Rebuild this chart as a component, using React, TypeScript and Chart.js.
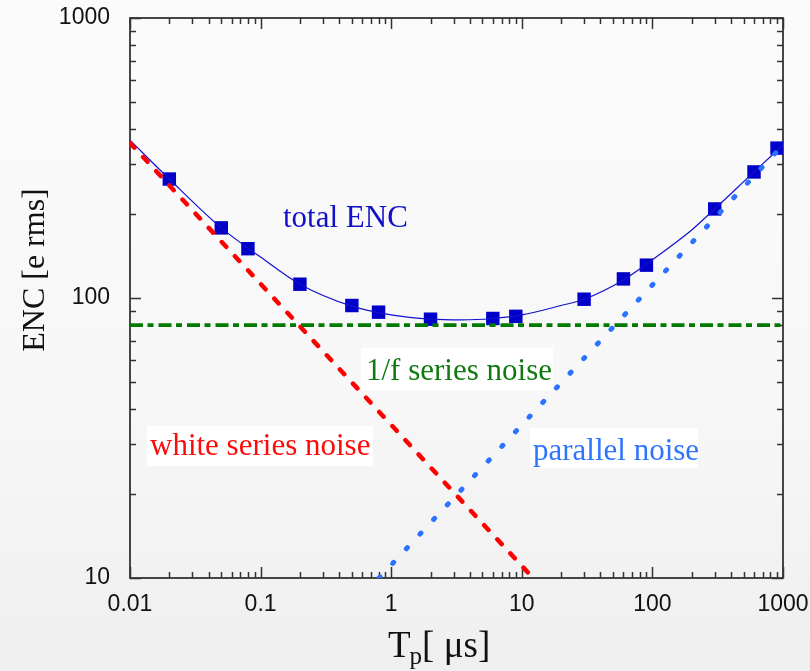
import React, { useEffect, useRef } from 'react';
import { Chart, registerables } from 'chart.js';
Chart.register(...registerables);

// ---- data ----
const X_MAJOR = [0.01, 0.1, 1, 10, 100, 1000];
const Y_MAJOR = [10, 100, 1000];
const X_TICK_LABELS = ['0.01', '0.1', '1', '10', '100', '1000'];
const Y_TICK_LABELS = ['10', '100', '1000'];
const MINOR_STEPS = [2, 3, 4, 5, 6, 7, 8, 9];

const MEAS_TP = [0.02, 0.05, 0.08, 0.2, 0.5, 0.8, 2, 6, 9, 30, 60, 90, 300, 600, 900];
const MEAS_ENC = [266, 178, 150, 112, 94, 89, 84, 84.5, 86, 99, 117, 131, 208, 282, 343];

const TOTAL_TP = [0.01, 0.02, 0.05, 0.1, 0.2, 0.5, 1, 2, 3.5, 6, 10, 20, 30, 60, 100, 200, 300, 600, 1000];
const TOTAL_ENC = [366, 266, 178, 140, 112, 93.5, 87, 84, 83.5, 84.5, 87, 94, 99, 116, 137, 175, 208, 282, 352];

const WHITE_TP = [0.01, 12.2];
const WHITE_ENC = [358, 10];

const ONEF_TP = [0.01, 1000];
const ONEF_ENC = [80, 80];

const PAR_TP = [0.807, 1000];
const PAR_ENC = [10, 352];

const LABELS = ['total ENC', '1/f series noise', 'white series noise', 'parallel noise'];
const X_TITLE = ['T', 'p', '[ μs]'];
const Y_TITLE = 'ENC [e rms]';

const pts = (xs: number[], ys: number[]) => xs.map((x, i) => ({ x, y: ys[i] }));

const buildTicks = (majors: number[]) => {
  const out: { value: number }[] = [];
  majors.forEach((m, i) => {
    out.push({ value: m });
    if (i < majors.length - 1) MINOR_STEPS.forEach((s) => out.push({ value: Number((m * s).toPrecision(6)) }));
  });
  return out;
};
const isMajor = (v: number) => Math.abs(Math.log10(v) - Math.round(Math.log10(v))) < 1e-9;

const SERIF = '"Liberation Serif", "Times New Roman", serif';
const SANS = '"Liberation Sans", Arial, sans-serif';

const framePlugin = {
  id: 'frame',
  beforeDatasetsDraw(chart: any) {
    const { ctx, chartArea: a, scales } = chart;
    ctx.save();
    ctx.strokeStyle = '#333';
    ctx.lineWidth = 1.5;
    const xs = scales.x, ys = scales.y;
    xs.ticks.forEach((t: any) => {
      const px = Math.round(xs.getPixelForValue(t.value)) + 0.5;
      const len = isMajor(t.value) ? 11 : 6;
      ctx.beginPath();
      ctx.moveTo(px, a.bottom); ctx.lineTo(px, a.bottom - len);
      ctx.moveTo(px, a.top); ctx.lineTo(px, a.top + len);
      ctx.stroke();
    });
    ys.ticks.forEach((t: any) => {
      const py = Math.round(ys.getPixelForValue(t.value)) + 0.5;
      const len = isMajor(t.value) ? 11 : 6;
      ctx.beginPath();
      ctx.moveTo(a.left, py); ctx.lineTo(a.left + len, py);
      ctx.moveTo(a.right, py); ctx.lineTo(a.right - len, py);
      ctx.stroke();
    });
    ctx.lineWidth = 1.8;
    ctx.strokeRect(a.left, a.top, a.right - a.left, a.bottom - a.top);

    // tick labels
    ctx.fillStyle = '#111';
    ctx.font = `23px ${SANS}`;
    ctx.textAlign = 'center';
    ctx.textBaseline = 'top';
    X_MAJOR.forEach((v, i) => ctx.fillText(X_TICK_LABELS[i], xs.getPixelForValue(v), a.bottom + 15));
    ctx.textAlign = 'right';
    ctx.textBaseline = 'middle';
    Y_MAJOR.forEach((v, i) => ctx.fillText(Y_TICK_LABELS[i], a.left - 20, ys.getPixelForValue(v)));
    ctx.restore();
  },
  afterDraw(chart: any) {
    const { ctx } = chart;
    ctx.save();
    ctx.textBaseline = 'alphabetic';
    const boxes = [
      { t: LABELS[0], x: 283, y: 227, c: '#1010c8', bg: null, box: null },
      { t: LABELS[1], x: 366, y: 380, c: '#107a10', bg: '#ffffff', box: [361, 348, 192, 42] },
      { t: LABELS[2], x: 150, y: 455, c: '#ff0a0a', bg: '#ffffff', box: [147, 426, 226, 40] },
      { t: LABELS[3], x: 533, y: 460, c: '#2f74ff', bg: '#ffffff', box: [530, 428, 168, 40] },
    ];
    ctx.font = `31px ${SERIF}`;
    boxes.forEach((b) => {
      if (b.bg && b.box) {
        ctx.fillStyle = b.bg;
        ctx.fillRect(b.box[0], b.box[1], b.box[2], b.box[3]);
      }
      ctx.fillStyle = b.c;
      ctx.fillText(b.t, b.x, b.y);
    });
    ctx.fillStyle = '#111';
    let x = 388;
    ctx.font = `37px ${SERIF}`;
    ctx.fillText(X_TITLE[0], x, 657);
    x += ctx.measureText(X_TITLE[0]).width;
    ctx.font = `25px ${SERIF}`;
    ctx.fillText(X_TITLE[1], x - 1, 664);
    x += ctx.measureText(X_TITLE[1]).width;
    ctx.font = `37px ${SERIF}`;
    ctx.fillText(X_TITLE[2], x - 1, 657);
    ctx.save();
    ctx.translate(44, 270);
    ctx.rotate(-Math.PI / 2);
    ctx.font = `32px ${SERIF}`;
    ctx.textAlign = 'center';
    ctx.fillText(Y_TITLE, 0, 0);
    ctx.restore();
    ctx.restore();
  },
};

export default function App() {
  const ref = useRef<HTMLCanvasElement | null>(null);
  useEffect(() => {
    document.body.style.margin = '0';
    const canvas = ref.current!;
    const chart = new Chart(canvas, {
      type: 'scatter',
      data: {
        datasets: [
          {
            data: pts(PAR_TP, PAR_ENC),
            showLine: true,
            borderColor: '#2a72ff',
            borderWidth: 5,
            borderDash: [1.5, 18.5],
            borderCapStyle: 'round',
            pointRadius: 0,
          },
          {
            data: pts(ONEF_TP, ONEF_ENC),
            showLine: true,
            borderColor: '#007a00',
            borderWidth: 3.6,
            borderDash: [13, 4.5, 6, 5],
            pointRadius: 0,
          },
          {
            data: pts(WHITE_TP, WHITE_ENC),
            showLine: true,
            borderColor: '#ff0000',
            borderWidth: 4.5,
            borderDash: [6.5, 12.8],
            borderCapStyle: 'round',
            pointRadius: 0,
          },
          {
            data: pts(TOTAL_TP, TOTAL_ENC),
            showLine: true,
            borderColor: '#1212d0',
            borderWidth: 1.2,
            cubicInterpolationMode: 'monotone',
            pointRadius: 0,
          },
          {
            data: pts(MEAS_TP, MEAS_ENC),
            showLine: false,
            pointStyle: 'rect',
            pointRadius: 9.5,
            backgroundColor: '#0000c8',
            borderColor: '#0000c8',
            borderWidth: 0,
          },
        ],
      } as any,
      options: {
        responsive: false,
        animation: false,
        events: [],
        layout: { padding: { left: 0, top: 18, right: 27, bottom: 0 } },
        plugins: { legend: { display: false }, tooltip: { enabled: false } },
        scales: {
          x: {
            type: 'logarithmic',
            min: 0.01,
            max: 1000,
            grid: { display: false, drawTicks: false },
            border: { display: false },
            afterBuildTicks: (s: any) => { s.ticks = buildTicks(X_MAJOR); },
            afterFit: (s: any) => { s.height = 93; },
            ticks: { display: false, autoSkip: false },
          },
          y: {
            type: 'logarithmic',
            min: 10,
            max: 1000,
            grid: { display: false, drawTicks: false },
            border: { display: false },
            afterBuildTicks: (s: any) => { s.ticks = buildTicks(Y_MAJOR); },
            afterFit: (s: any) => { s.width = 130; },
            ticks: { display: false, autoSkip: false },
          },
        },
      } as any,
      plugins: [framePlugin],
    });
    return () => chart.destroy();
  }, []);
  return (
    <div style={{ width: 810, height: 671, background: 'linear-gradient(180deg, #fbfbfb 0%, #f7f7f7 60%, #efefef 100%)' }}>
      <canvas ref={ref} width={810} height={671} style={{ display: 'block' }} />
    </div>
  );
}
